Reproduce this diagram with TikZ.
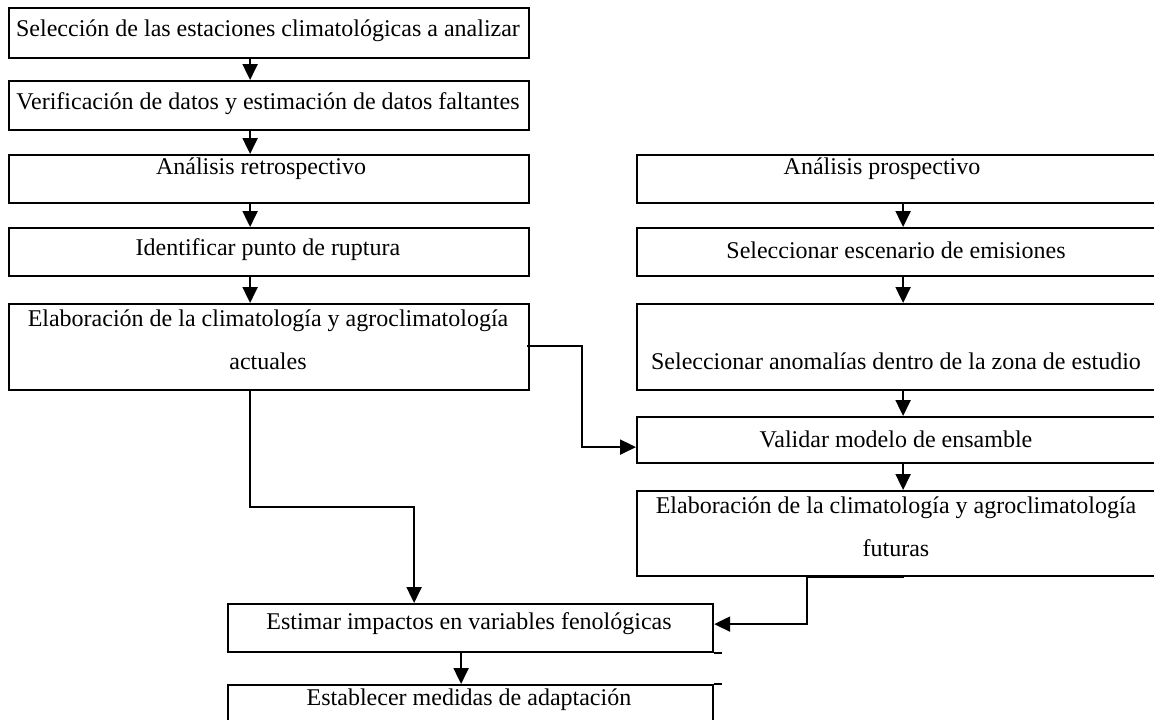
\documentclass[tikz,border=0pt]{standalone}
\usepackage{fontspec}
\setmainfont{Liberation Serif}
\usetikzlibrary{arrows.meta}
\begin{document}
\begin{tikzpicture}[x=1pt,y=-1pt,
  box/.style={draw, line width=2.2pt, rectangle, inner sep=0pt, anchor=north west},
  txt/.style={font=\fontsize{24}{43}\selectfont, inner sep=0pt, align=center},
  arr/.style={line width=2.2pt, -{Triangle[length=16pt,width=15pt]}},
  con/.style={line width=2.2pt}]
\useasboundingbox (0,0) rectangle (1154,720);
\clip (0,0) rectangle (1154,720);
\fill[white] (0,0) rectangle (1154,720);
% left column
\node[box, minimum width=520pt, minimum height=50pt] (b1) at (8,7) {};
\node[box, minimum width=520pt, minimum height=49pt] (b2) at (8,80) {};
\node[box, minimum width=520pt, minimum height=48pt] (b3) at (8,154) {};
\node[box, minimum width=520pt, minimum height=48pt] (b4) at (8,227) {};
\node[box, minimum width=520pt, minimum height=86pt] (b5) at (8,303) {};
% right column
\node[box, minimum width=544pt, minimum height=48pt] (r1) at (636,154) {};
\node[box, minimum width=544pt, minimum height=48pt] (r2) at (636,227) {};
\node[box, minimum width=544pt, minimum height=86pt] (r3) at (636,303) {};
\node[box, minimum width=544pt, minimum height=46pt] (r4) at (636,416) {};
\node[box, minimum width=544pt, minimum height=85pt] (r5) at (636,490) {};
% bottom
\node[box, minimum width=485pt, minimum height=48pt] (est) at (227,603) {};
\node[box, minimum width=485pt, minimum height=60pt] (esta) at (227,684) {};
\draw[con] (est.south east) -- ++(8,0);
\draw[con] (esta.north east) -- ++(8,0);
% texts
\node[txt] (t1) at (268,31) {Selección de las estaciones climatológicas a analizar};
\node[txt] (t2) at (268,104) {Verificación de datos y estimación de datos faltantes};
\node[txt] (t3) at (261,169) {Análisis retrospectivo};
\node[txt] (t4) at (268,250) {Identificar punto de ruptura};
\node[txt] (t5) at (268,340) {Elaboración de la climatología y agroclimatología\\actuales};
\node[txt] (u1) at (882,169) {Análisis prospectivo};
\node[txt] (u2) at (896,250) {Seleccionar escenario de emisiones};
\node[txt] (u3) at (896,361) {Seleccionar anomalías dentro de la zona de estudio};
\node[txt] (u4) at (896,439) {Validar modelo de ensamble};
\node[txt] (u5) at (896,527) {Elaboración de la climatología y agroclimatología\\futuras};
\node[txt] (v1) at (469,624) {Estimar impactos en variables fenológicas};
\node[txt] (v2) at (469,700) {Establecer medidas de adaptación};
% connectors
\draw[arr] ([xshift=-19pt]b1.south) -- ([xshift=-19pt]b2.north);
\draw[arr] ([xshift=-19pt]b2.south) -- ([xshift=-19pt]b3.north);
\draw[arr] ([xshift=-19pt]b3.south) -- ([xshift=-19pt]b4.north);
\draw[arr] ([xshift=-19pt]b4.south) -- ([xshift=-19pt]b5.north);
\draw[arr] ([xshift=-6pt]r1.south) -- ([xshift=-6pt]r2.north);
\draw[arr] ([xshift=-6pt]r2.south) -- ([xshift=-6pt]r3.north);
\draw[arr] ([xshift=-6pt]r3.south) -- ([xshift=-6pt]r4.north);
\draw[arr] ([xshift=-6pt]r4.south) -- ([xshift=-6pt]r5.north);
\draw[arr] ([xshift=-3pt,yshift=1pt]b5.east) -- ++(55,0) |- ([yshift=-7pt]r4.west);
\draw[arr] ([xshift=-19pt]b5.south) -- ++(0,116) -| ([xshift=-56.5pt]est.north);
\draw[arr] ([xshift=-5pt]r5.south) -- ([xshift=-102pt]r5.south) |- ([yshift=4pt]est.east);
\draw[arr] ([xshift=-9.5pt]est.south) -- ([xshift=-9.5pt]esta.north);
\end{tikzpicture}
\end{document}
